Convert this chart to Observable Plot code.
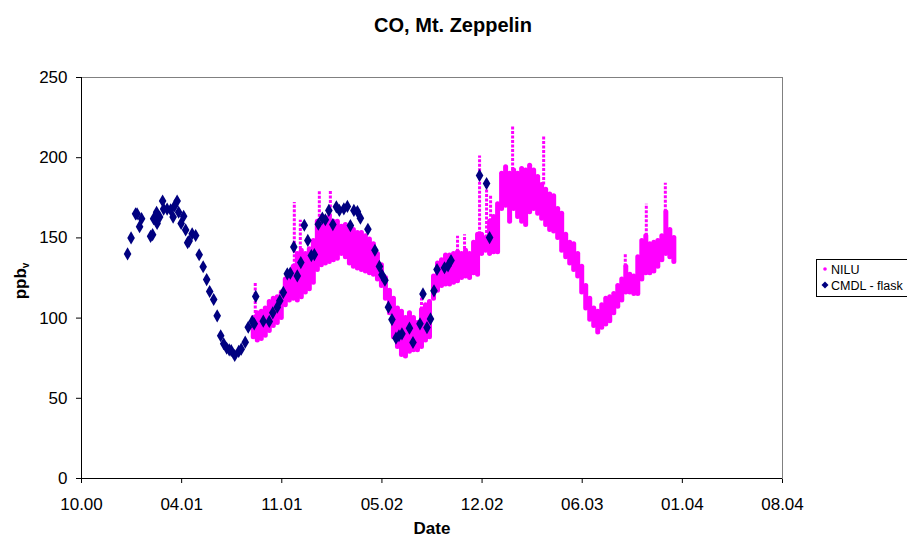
<!DOCTYPE html>
<html>
<head>
<meta charset="utf-8">
<script src="https://cdn.jsdelivr.net/npm/d3@7"></script>
<script src="https://cdn.jsdelivr.net/npm/@observablehq/plot@0.6"></script>
<style>
  body { margin: 0; background: #fff; font-family: "Liberation Sans", Arial, sans-serif; }
  #wrap { position: relative; width: 907px; height: 540px; overflow: hidden; }
  #title { position: absolute; left: 0; width: 906px; top: 15px; text-align: center; font-weight: bold; font-size: 20px; line-height: 1; }
  #ylab { position: absolute; left: 21px; top: 281px; transform: translate(-50%, -50%) rotate(-90deg); font-weight: bold; font-size: 17px; line-height: 1; white-space: nowrap; }
  #ylab sub { font-size: 10px; vertical-align: -3px; }
  #xlab { position: absolute; left: 432px; top: 520px; transform: translateX(-50%); font-weight: bold; font-size: 17px; line-height: 1.05; }
  #legend { position: absolute; left: 816px; top: 259px; width: 100px; height: 38px; border: 1px solid #000; box-sizing: border-box; font-size: 12.5px; line-height: 1; }
  .li { position: absolute; left: 14px; white-space: nowrap; }
  .sw { position: absolute; }
</style>
</head>
<body>
<div id="wrap">
  <div id="chart"></div>
  <div id="title">CO, Mt. Zeppelin</div>
  <div id="ylab">ppb<sub>v</sub></div>
  <div id="xlab">Date</div>
  <div id="legend">
    <svg class="sw" style="left:0;top:0" width="14" height="38">
      <circle cx="8" cy="9" r="1.8" fill="#ff00ff"></circle>
      <path d="M8,21.5 L11.5,25 L8,28.5 L4.5,25 Z" fill="#000080"></path>
    </svg>
    <div class="li" style="top:4px">NILU</div>
    <div class="li" style="top:20px">CMDL - flask</div>
  </div>
</div>
<script>
// Excel serial day numbers
const xTickSerials = [36800, 37000, 37200, 37400, 37600, 37800, 38000, 38200];
const yTicks = [0, 50, 100, 150, 200, 250];

// CMDL flask samples
const cmdlDay = [36892,36899,36908,36911,36916,36920,36938,36942,36944,36950,36951,36956,36962,36964,36971,36978,36983,36986,36991,36994,36999,37004,37008,37012,37015,37021,37028,37035,37043,37050,37056,37064,37071,37078,37084,37090,37095,37099,37106,37114,37119,37127,37133,37141,37145,37148,37163,37175,37182,37191,37196,37203,37211,37217,37224,37231,37238,37245,37252,37259,37265,37273,37281,37287,37294,37302,37309,37315,37324,37331,37337,37344,37351,37357,37372,37386,37395,37400,37406,37413,37420,37428,37434,37440,37455,37462,37476,37482,37490,37497,37504,37510,37525,37532,37538,37595,37609,37615];
const cmdlVal = [140,150,165,165,157,162,151,152,162,166,159,163,173,168,168,167.5,163,170,173,166,159,163.5,155,147,148,152.6,151.5,139.5,132,124,116.6,111.6,101.4,89,84,81.2,80.2,79.8,76.7,79.2,80.6,85,94.3,98,96.4,113.5,98.1,97.9,103.3,106.8,110.8,116,127.6,128,144.4,126.3,134.6,157.9,148.4,139,139.6,158.5,162.3,161.3,167.1,158.3,169.4,167.1,168.1,169.6,157.7,167.1,166.4,162.3,155.4,142.3,132.2,127,123.6,106.8,99.1,87.5,89,90.2,93.7,84.8,96.4,115.1,94.1,99.5,117,130.3,131.4,132.6,135.9,188.9,183.9,150.2];

// NILU continuous record: lower and upper edge of the point cloud
const niluDay = [37143,37151,37159,37167,37175,37183,37191,37199,37207,37215,37223,37231,37239,37247,37255,37263,37271,37279,37287,37295,37303,37311,37319,37327,37335,37343,37351,37359,37367,37375,37383,37391,37399,37407,37415,37423,37431,37439,37447,37455,37463,37471,37479,37487,37495,37503,37511,37519,37527,37535,37543,37551,37559,37567,37575,37583,37591,37599,37607,37615,37623,37631,37639,37647,37655,37663,37671,37679,37687,37695,37703,37711,37719,37727,37735,37743,37751,37759,37767,37775,37783,37791,37799,37807,37815,37823,37831,37839,37847,37855,37863,37871,37879,37887,37895,37903,37911,37919,37927,37935,37943,37951,37959,37967,37975,37983];
const niluLo = [88,86,87,89,92,95,97,100,108,111,112,111,113,116,118,122,130,133,134,135,136,137,140,138,134,132,131,130,129,128,127,124,120,112,103,88,82,77,76,79,80,80,82,86,88,112,117,120,121,121,122,123,125,126,125,128,127,140,142,140,141,141,168,170,160,168,163,160,158,166,168,165,162,158,155,154,150,142,138,134,130,126,116,106,99,95,91,94,96,98,103,107,111,116,116,115,115,124,128,128,129,132,136,140,138,135];
const niluHi = [100,103,104,106,110,112,113,116,124,128,132,140,142,140,143,148,160,163,162,163,160,160,157,158,156,155,153,153,151,149,146,140,133,125,117,112,106,104,100,103,100,97,105,108,110,126,134,136,139,139,140,141,140,142,140,147,152,152,150,160,163,171,190,194,190,192,190,193,192,195,192,188,183,180,177,176,168,165,152,147,146,140,132,120,112,106,104,108,112,113,115,120,124,132,127,126,138,148,151,146,147,148,151,166,155,150];

// isolated excursions (columns of points above the band)
const spikeDay = [37147,37225,37237,37275,37297,37479,37551,37565,37595,37609,37617,37661,37723,37886,37928,37966];
const spikeLo  = [100,132,140,160,163,105,141,140,152,150,160,192,183,132,151,166];
const spikeHi  = [122,172,161,179,179,116,151,152,201,185,176,220,213,140,171,184];

const toDate = s => new Date(Date.UTC(1899, 11, 30) + s * 864e5);

const cmdl = cmdlDay.map((s, i) => ({date: toDate(s), v: cmdlVal[i]}));
const nilu = niluDay.map((s, i) => ({date: toDate(s), lo: niluLo[i], hi: niluHi[i]}));
const spikes = spikeDay.map((s, i) => ({date: toDate(s), lo: spikeLo[i], hi: spikeHi[i]}));

const chart = Plot.plot({
  width: 907,
  height: 540,
  marginLeft: 81,
  marginRight: 125,
  marginTop: 77,
  marginBottom: 62,
  style: {fontFamily: "'Liberation Sans', Arial, sans-serif", fontSize: "17px", background: "white", color: "black"},
  x: {type: "utc", domain: [toDate(36800), toDate(38200)], ticks: xTickSerials.map(toDate),
      tickFormat: d3.utcFormat("%m.%y"), tickSize: 5, tickPadding: 14, label: null},
  y: {domain: [0, 250], ticks: yTicks, tickSize: 5, tickPadding: 9, label: null},
  marks: [
    Plot.frame({stroke: "#808080"}),
    Plot.ruleX(nilu, {x: "date", y1: "lo", y2: "hi", stroke: "#ff00ff", strokeWidth: 5, strokeLinecap: "round"}),
    Plot.ruleX(spikes, {x: "date", y1: "lo", y2: "hi", stroke: "#ff00ff", strokeWidth: 3, strokeDasharray: "3,1.5"}),
    Plot.dot(cmdl, {x: "date", y: "v", symbol: "diamond", r: 4, fill: "#000080", stroke: "none"}),
    Plot.ruleY([0], {stroke: "black"}),
    Plot.ruleX([toDate(36800)], {stroke: "black"})
  ]
});
document.getElementById("chart").appendChild(chart);
</script>
</body>
</html>
